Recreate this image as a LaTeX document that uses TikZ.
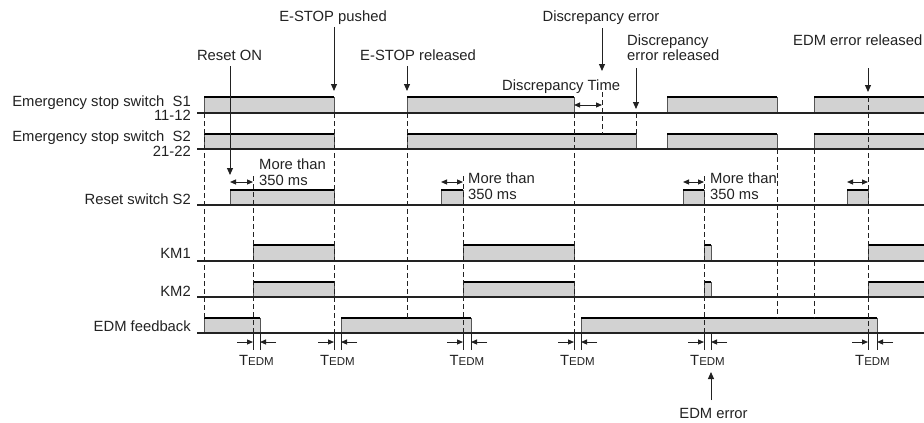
\documentclass[tikz,border=0pt]{standalone}
\usepackage{fontspec}
\setmainfont{Liberation Sans}
\usetikzlibrary{arrows.meta}
\definecolor{sigfill}{HTML}{D2D2D2}
\definecolor{edgec}{HTML}{555555}
\definecolor{linec}{HTML}{222222}
\tikzset{
  lbl/.style={inner sep=0pt, font=\fontsize{14.8}{16}\selectfont, text=linec},
  rowlbl/.style={lbl, anchor=base east},
  baseln/.style={line width=1.2pt, draw=linec},
  topln/.style={line width=2.4pt, draw=black},
  edgeln/.style={line width=1pt, draw=edgec},
  dashln/.style={line width=0.9pt, draw=linec, dash pattern=on 5pt off 3pt},
  tickln/.style={line width=1pt, draw=linec},
  evarrow/.style={line width=1pt, draw=linec, -{Triangle[length=7pt,width=6pt]}},
  dimarrow/.style={line width=1pt, draw=linec, {Triangle[length=6pt,width=5pt]}-{Triangle[length=6pt,width=5pt]}},
  tarrow/.style={line width=1pt, draw=linec, -{Triangle[length=6pt,width=5pt]}},
}
\newcommand\pulseBox[4]{% x1 x2 top base
  \fill[sigfill] (#1,#3) rectangle (#2,#4);
  \draw[edgeln] (#1,#4) -- (#1,#3);
  \draw[edgeln] (#2,#3) -- (#2,#4);
  \draw[topln] (#1,#3) -- (#2,#3);
}
\newcommand\pulseOpen[3]{% x1 top base
  \fill[sigfill] (#1,#2) rectangle (924,#3);
  \draw[edgeln] (#1,#3) -- (#1,#2);
  \draw[topln] (#1,#2) -- (924,#2);
}
\newcommand\tedm[3]{% name x1 x2
  \draw[tickln] (#2,333) -- (#2,350);
  \draw[tickln] (#3,333) -- (#3,350);
  \draw[tarrow] (#2-16,342) -- (#2,342);
  \draw[tarrow] (#3+16,342) -- (#3,342);
  \node[lbl, anchor=base] (#1) at ({(#2+#3)/2},365) {T{\fontsize{11.5}{12}\selectfont EDM}};
}
\begin{document}
\begin{tikzpicture}[x=1pt,y=-1pt]
\useasboundingbox (0,0) rectangle (924,423);
\fill[white] (0,0) rectangle (924,423);

% ---------- pulses ----------
% S1 (top 97, base 113)
\pulseBox{204}{334}{97}{113}
\pulseBox{407}{574}{97}{113}
\pulseBox{667}{777}{97}{113}
\pulseOpen{814}{97}{113}
% S2 (top 134, base 149)
\pulseBox{204}{334}{134}{149}
\pulseBox{407}{636}{134}{149}
\pulseBox{667}{777}{134}{149}
\pulseOpen{814}{134}{149}
% Reset (top 190, base 205)
\pulseBox{230}{334}{190}{205}
\pulseBox{441}{463}{190}{205}
\pulseBox{683}{704}{190}{205}
\pulseBox{847}{868}{190}{205}
% KM1 (top 245, base 261)
\pulseBox{253}{334}{245}{261}
\pulseBox{463}{574}{245}{261}
\pulseBox{704}{711}{245}{261}
\pulseOpen{868}{245}{261}
% KM2 (top 282, base 297)
\pulseBox{253}{334}{282}{297}
\pulseBox{463}{574}{282}{297}
\pulseBox{704}{711}{282}{297}
\pulseOpen{868}{282}{297}
% EDM feedback (top 318, base 333)
\pulseBox{204}{260}{318}{333}
\pulseBox{341}{471}{318}{333}
\pulseBox{581}{877}{318}{333}

% ---------- dashed guide lines ----------
\draw[dashln] (204,113) -- (204,318);
\draw[dashln] (253,176) -- (253,333);
\draw[dashln] (334,113) -- (334,333);
\draw[dashln] (407,113) -- (407,318);
\draw[dashln] (463,176) -- (463,333);
\draw[dashln] (574,113) -- (574,333);
\draw[dashln] (602,92) -- (602,134);
\draw[dashln] (636,113) -- (636,134);
\draw[dashln] (704,176) -- (704,333);
\draw[dashln] (777,149) -- (777,318);
\draw[dashln] (814,149) -- (814,318);
\draw[dashln] (868,97) -- (868,333);

% ---------- baselines ----------
\foreach \y in {113,149,205,261,297,333} \draw[baseln] (197,\y) -- (924,\y);

% ---------- row labels ----------
\node[rowlbl] (lS1) at (191,106) {Emergency stop switch\ \ S1};
\node[rowlbl] (lS1b) at (191,120) {11-12};
\node[rowlbl] (lS2) at (191,141) {Emergency stop switch\ \ S2};
\node[rowlbl] (lS2b) at (191,156) {21-22};
\node[rowlbl] (lRst) at (191,204) {Reset switch S2};
\node[rowlbl] (lKM1) at (191,258) {KM1};
\node[rowlbl] (lKM2) at (191,296) {KM2};
\node[rowlbl] (lEDM) at (191,331) {EDM feedback};

% ---------- event labels and arrows ----------
\node[lbl, anchor=base] (resetON) at (229.5,60) {Reset ON};
\coordinate (resetONtip) at (230,175);
\draw[evarrow] (230,66) -- (resetONtip);

\node[lbl, anchor=base] (estopP) at (333,21.7) {E-STOP pushed};
\coordinate (estopPtip) at (334,91);
\draw[evarrow] (334,27) -- (estopPtip);

\node[lbl, anchor=base west] (estopR) at (360,60) {E-STOP released};
\coordinate (estopRtip) at (407,91);
\draw[evarrow] (407,66) -- (estopRtip);

\node[lbl, anchor=base] (discE) at (601,21.7) {Discrepancy error};
\coordinate (discEtip) at (602,71);
\draw[evarrow] (602,28) -- (discEtip);

\node[lbl, anchor=base west] (discR1) at (627,45) {Discrepancy};
\node[lbl, anchor=base west] (discR2) at (627,60) {error released};
\coordinate (discRtip) at (636,109);
\draw[evarrow] (636,68) -- (discRtip);

\node[lbl, anchor=base west] (edmR) at (793,45) {EDM error released};
\coordinate (edmRtip) at (868,92);
\draw[evarrow] (868,68) -- (edmRtip);

\node[lbl, anchor=base west] (discT) at (502,90) {Discrepancy Time};
\coordinate (dtA) at (574,105);
\coordinate (dtB) at (602,105);
\draw[dimarrow] (dtA) -- (dtB);

% More than 350 ms
\coordinate (m1a) at (230,182); \coordinate (m1b) at (253,182);
\draw[dimarrow] (m1a) -- (m1b);
\node[lbl, anchor=base west] (m1t1) at (259,169) {More than};
\node[lbl, anchor=base west] (m1t2) at (259,185) {350 ms};

\coordinate (m2a) at (441,182); \coordinate (m2b) at (463,182);
\draw[dimarrow] (m2a) -- (m2b);
\node[lbl, anchor=base west] (m2t1) at (468,183) {More than};
\node[lbl, anchor=base west] (m2t2) at (468,199) {350 ms};

\coordinate (m3a) at (683,182); \coordinate (m3b) at (704,182);
\draw[dimarrow] (m3a) -- (m3b);
\node[lbl, anchor=base west] (m3t1) at (710,183) {More than};
\node[lbl, anchor=base west] (m3t2) at (710,199) {350 ms};

\coordinate (m4a) at (847,182); \coordinate (m4b) at (868,182);
\draw[dimarrow] (m4a) -- (m4b);

% ---------- TEDM markers ----------
\tedm{t1}{253}{260}
\tedm{t2}{334}{341}
\tedm{t3}{463}{471}
\tedm{t4}{574}{581}
\tedm{t5}{704}{711}
\tedm{t6}{868}{877}

\node[lbl, anchor=base] (edmErr) at (713.5,418) {EDM error};
\coordinate (edmErrtip) at (711,372);
\draw[evarrow] (711,400) -- (edmErrtip);
\end{tikzpicture}
\end{document}
